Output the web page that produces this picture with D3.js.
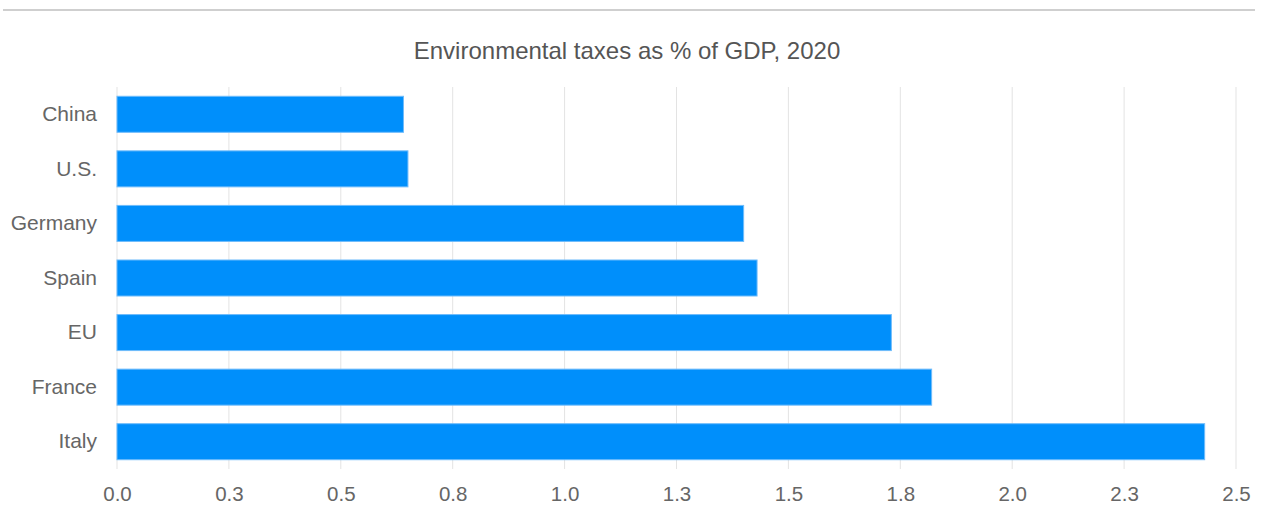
<!DOCTYPE html>
<html>
<head>
<meta charset="utf-8">
<script src="https://cdn.jsdelivr.net/npm/d3@7"></script>
<style>
  body { margin: 0; background: #fff; }
  svg { display: block; font-family: "Liberation Sans", Arial, sans-serif; }
</style>
</head>
<body>
<div id="chart"></div>
<script>
const countries = ['China', 'U.S.', 'Germany', 'Spain', 'EU', 'France', 'Italy']
const taxShare = [0.64, 0.65, 1.40, 1.43, 1.73, 1.82, 2.43]
const tickValues = [0, 0.25, 0.5, 0.75, 1, 1.25, 1.5, 1.75, 2, 2.25, 2.5]
const title = 'Environmental taxes as % of GDP, 2020'

const width = 1261
const height = 508
const margin = { top: 87, right: 25, bottom: 39, left: 117 }

const svg = d3.select('#chart').append('svg')
    .attr('width', width)
    .attr('height', height)

// thin rule across the top
svg.append('line')
    .attr('x1', 3).attr('x2', 1255)
    .attr('y1', 10).attr('y2', 10)
    .attr('stroke', '#cfcfcf')
    .attr('stroke-width', 2)

svg.append('text')
    .text(title)
    .attr('x', 627)
    .attr('y', 59)
    .attr('text-anchor', 'middle')
    .style('font-size', '24px')
    .style('fill', '#555')

const x = d3.scaleLinear()
    .domain([0, 2.5])
    .range([margin.left, width - margin.right])

const y = d3.scaleBand()
    .domain(countries)
    .range([margin.top, height - margin.bottom])
    .paddingInner(0.34)
    .paddingOuter(0.17)

// grid
svg.append('g')
    .selectAll('line')
    .data(tickValues)
    .join('line')
    .attr('x1', d => x(d)).attr('x2', d => x(d))
    .attr('y1', margin.top).attr('y2', height - margin.bottom)
    .attr('stroke', '#e3e3e3')
    .attr('stroke-width', 1)

// bars
svg.append('g')
    .selectAll('rect')
    .data(countries)
    .join('rect')
    .attr('x', x(0))
    .attr('y', d => y(d))
    .attr('width', (d, i) => x(taxShare[i]) - x(0))
    .attr('height', y.bandwidth())
    .attr('fill', '#008ffb')
    .attr('stroke', '#6fbcfb')
    .attr('stroke-width', 1)

// x axis
const xAxis = d3.axisBottom(x)
    .tickValues(tickValues)
    .tickFormat(d3.format('.1f'))
    .tickSize(0)
    .tickPadding(17)

svg.append('g')
    .attr('transform', `translate(0, ${height - margin.bottom})`)
    .call(xAxis)
    .call(g => g.select('.domain').remove())
    .selectAll('text')
    .style('font-size', '20.5px')
    .style('fill', '#666')
    .style('font-family', '"Liberation Sans", Arial, sans-serif')

// y axis
const yAxis = d3.axisLeft(y)
    .tickSize(0)
    .tickPadding(20)

svg.append('g')
    .attr('transform', `translate(${margin.left}, 0)`)
    .call(yAxis)
    .call(g => g.select('.domain').remove())
    .selectAll('text')
    .style('font-size', '21px')
    .style('fill', '#666')
    .style('font-family', '"Liberation Sans", Arial, sans-serif')
</script>
</body>
</html>
